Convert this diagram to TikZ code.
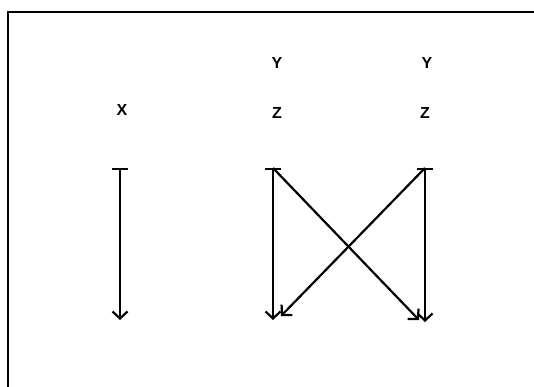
\documentclass[tikz,border=0pt]{standalone}
\usepackage{fontspec}
\setmainfont{Liberation Sans}
\usetikzlibrary{arrows.meta}
\begin{document}
\begin{tikzpicture}[x=1pt,y=1pt,
  lbl/.style={font=\fontsize{16}{18}\selectfont\bfseries, inner sep=0pt},
  conn/.style={line width=2.2pt, {Bar[width=16pt,line width=2.2pt]}-{Straight Barb[length=7pt,width=15pt,line width=2.2pt]}},
  diag/.style={line width=2.2pt, -{Straight Barb[length=7pt,width=15pt,line width=2.2pt]}}]
\useasboundingbox (0,0) rectangle (534,386);
\fill[white] (0,0) rectangle (534,386);
\begin{scope}
\clip (0,0) rectangle (534,386);
\draw[line width=2.2pt] (8,-10) -- (8,374) -- (545,374);
\end{scope}
% labels
\node[lbl] (x)  at (122,276) {X};
\node[lbl] (y1) at (277,323) {Y};
\node[lbl] (z1) at (277,273) {Z};
\node[lbl] (y2) at (427,323) {Y};
\node[lbl] (z2) at (425,273) {Z};
% points
\coordinate (xt) at (120,218);
\coordinate (xb) at (120,66);
\coordinate (mt) at (273,218);
\coordinate (mb) at (273,66);
\coordinate (rt) at (425,218);
\coordinate (rb) at (425,64);
\coordinate (db1) at (419,66);
\coordinate (db2) at (281,70);
% connectors
\draw[conn] (xt) -- (xb);
\draw[conn] (mt) -- (mb);
\draw[conn] (rt) -- (rb);
\draw[diag] (mt) -- (db1);
\draw[diag] (rt) -- (db2);
\end{tikzpicture}
\end{document}
